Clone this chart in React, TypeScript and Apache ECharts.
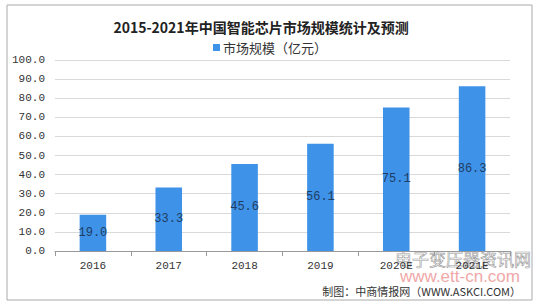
import React, { useEffect, useRef } from "react";
import * as echarts from "echarts";

const categories = ["2016", "2017", "2018", "2019", "2020E", "2021E"];
const marketSize = [19.0, 33.3, 45.6, 56.1, 75.1, 86.3];
const seriesName = "市场规模（亿元）";
const titleText = "2015-2021年中国智能芯片市场规模统计及预测";
const sourceText = "制图：中商情报网（WWW.ASKCI.COM）";

const MONO = "'Liberation Mono', 'DejaVu Sans Mono', monospace";
const CJK = "'Noto Sans CJK SC', 'Noto Sans', sans-serif";

export default function App() {
  const ref = useRef<HTMLDivElement>(null);
  useEffect(() => {
    if (!ref.current) return;
    const chart = echarts.init(ref.current, null, { renderer: "svg" });
    chart.setOption({
      animation: false,
      backgroundColor: "#ffffff",
      title: {
        text: titleText,
        left: 256,
        textAlign: "center",
        top: 15,
        textStyle: { fontFamily: CJK, fontSize: 14, fontWeight: "bold", color: "#222" },
      },
      legend: {
        data: [seriesName],
        left: 208,
        top: 36,
        icon: "rect",
        itemWidth: 7,
        itemHeight: 7,
        itemGap: 4,
        textStyle: { fontFamily: CJK, fontSize: 13, color: "#333", padding: [0, 0, 0, -2] },
      },
      grid: { left: 55, right: 40, top: 60, bottom: 54 },
      xAxis: {
        type: "category",
        data: categories,
        axisLine: { lineStyle: { color: "#999" } },
        axisTick: { show: true, alignWithLabel: false, lineStyle: { color: "#999" } },
        axisLabel: { fontFamily: MONO, fontSize: 11, color: "#333", margin: 9 },
      },
      yAxis: {
        type: "value",
        min: 0,
        max: 100,
        interval: 10,
        axisLine: { show: false },
        axisTick: { show: false },
        splitLine: { lineStyle: { color: "#d9d9d9" } },
        axisLabel: {
          fontFamily: MONO,
          fontSize: 11,
          color: "#333",
          margin: 10,
          formatter: (v: number) => v.toFixed(1),
        },
      },
      series: [
        {
          name: seriesName,
          type: "bar",
          data: marketSize,
          barWidth: "35%",
          itemStyle: { color: "#3e92e8" },
          label: {
            show: true,
            position: "inside",
            fontFamily: MONO,
            fontSize: 12,
            color: "#1f3d63",
            formatter: (p: any) => Number(p.value).toFixed(1),
          },
        },
      ],
      graphic: [
        {
          type: "rect",
          shape: { x: 7, y: 5, width: 525, height: 295 },
          style: { fill: "none", stroke: "#aaa", lineWidth: 1 },
          silent: true,
        },
        {
          type: "text",
          x: 395,
          y: 250,
          style: {
            text: "电子变压器资讯网",
            fontFamily: CJK,
            fontSize: 17,
            fill: "rgba(255,255,255,0)",
            stroke: "#9a9a9a",
            lineWidth: 0.6,
          },
          silent: true,
        },
        {
          type: "text",
          x: 400,
          y: 268,
          style: {
            text: "www.ett-cn.com",
            fontFamily: "'Liberation Sans', sans-serif",
            fontSize: 17,
            fill: "#f0a8a8",
          },
          silent: true,
        },
        {
          type: "text",
          x: 521,
          y: 285,
          style: {
            text: sourceText,
            fontFamily: CJK,
            fontSize: 11,
            fill: "#333",
            align: "right",
          },
          silent: true,
        },
      ],
    });
    return () => chart.dispose();
  }, []);
  return (
    <div
      ref={ref}
      style={{ position: "absolute", left: 0, top: 0, width: 550, height: 305 }}
    />
  );
}
